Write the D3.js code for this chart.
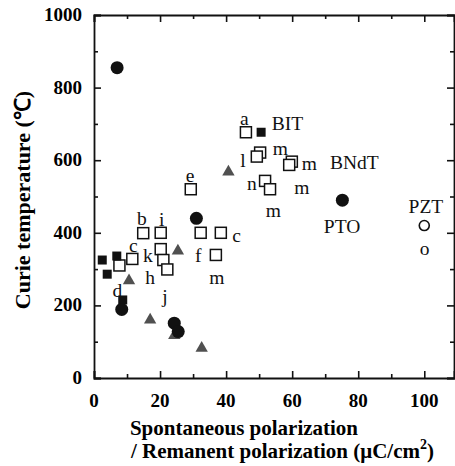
<!DOCTYPE html>
<html>

<head>
  <title>Curie temperature vs polarization</title>
  <meta charset="utf-8">
  <script src="https://d3js.org/d3.v7.min.js"></script>
  <style>
    body { margin: 0; background: #fff; }
    text { font-family: "Liberation Serif", "Times New Roman", serif; }
  </style>
</head>

<body>
  <div id="chart"></div>

  <script>
    // values: [polarization, Tc]
    var filledCircles = [[7, 855], [31, 440], [75.2, 490], [8.4, 189], [24.3, 151], [25.5, 128]];
    var triangles = [[40.7, 568], [25.4, 350], [10.6, 268], [17, 160], [24.3, 117], [32.6, 82]];
    var filledSquares = [[50.6, 677], [2.5, 325], [4, 286], [6.9, 336], [8.7, 215]];
    var openSquares = [[46, 677], [50.3, 621], [49.3, 610], [51.8, 543], [53.3, 520], [29.3, 520],
      [59.9, 596], [59.1, 587], [14.9, 399], [20.2, 400], [32.3, 400], [38.4, 400], [20.2, 355],
      [21, 325], [22.2, 299], [11.6, 328], [7.7, 310], [36.9, 339]];
    var openCircles = [[100, 420]];

    // point labels, in data coordinates
    var labels = [["a", 45.5, 715], ["BIT", 58.6, 702], ["l", 45.1, 600], ["m", 56.4, 634],
      ["m", 65.2, 592], ["BNdT", 78.8, 595], ["n", 47.8, 538], ["m", 62.9, 527], ["m", 54.3, 463],
      ["PTO", 75.1, 417], ["PZT", 100.5, 472], ["o", 100.1, 357], ["e", 29.1, 559],
      ["b", 14.5, 440], ["i", 20.5, 437], ["c", 11.9, 366], ["k", 16.3, 339], ["f", 31.6, 339],
      ["c", 43.2, 394], ["h", 17, 279], ["m", 37.2, 279], ["d", 7.1, 242], ["j", 21.5, 226]];

    var xMajor = [0, 20, 40, 60, 80, 100];
    var xMinor = [10, 30, 50, 70, 90];
    var yMajor = [0, 200, 400, 600, 800, 1000];
    var yMinor = [100, 300, 500, 700, 900];

    var W = 455, H = 466;
    var plotL = 94, plotR = 454, plotT = 15, plotB = 378;

    var svg = d3.select("#chart").append("svg")
      .attr("width", W)
      .attr("height", H);

    var x = d3.scaleLinear().domain([0, 109]).range([plotL, plotR]);
    var y = d3.scaleLinear().domain([0, 1000]).range([plotB, plotT]);

    // axes with inward ticks
    function drawAxis(axisFn, scale, major, minor, tx, ty) {
      var g = svg.append("g").attr("transform", "translate(" + tx + "," + ty + ")");
      g.call(axisFn(scale).tickValues(major).tickSize(-7).tickFormat(""));
      var g2 = svg.append("g").attr("transform", "translate(" + tx + "," + ty + ")");
      g2.call(axisFn(scale).tickValues(minor).tickSize(-4).tickFormat(""));
      g2.select(".domain").remove();
    }
    drawAxis(d3.axisBottom, x, xMajor, xMinor, 0, plotB);
    drawAxis(d3.axisTop, x, xMajor, xMinor, 0, plotT);
    drawAxis(d3.axisLeft, y, yMajor, yMinor, plotL, 0);
    drawAxis(d3.axisRight, y, yMajor, yMinor, plotR, 0);
    svg.selectAll(".domain, .tick line")
      .attr("stroke", "#111")
      .attr("stroke-width", 1.6);
    svg.selectAll(".domain").attr("stroke-width", 1.8);

    // tick labels
    svg.selectAll(".xlab").data(xMajor).enter().append("text")
      .attr("x", function(d) { return x(d); })
      .attr("y", 407)
      .attr("text-anchor", "middle")
      .attr("font-size", 19)
      .attr("font-weight", "bold")
      .text(function(d) { return d; });

    svg.selectAll(".ylab").data(yMajor).enter().append("text")
      .attr("x", 82)
      .attr("y", function(d) { return y(d) + 6; })
      .attr("text-anchor", "end")
      .attr("font-size", 19)
      .attr("font-weight", "bold")
      .text(function(d) { return d; });

    // axis titles
    svg.append("text")
      .attr("transform", "translate(30,200) rotate(-90)")
      .attr("text-anchor", "middle")
      .attr("font-size", 22)
      .attr("font-weight", "bold")
      .text("Curie temperature (\u2103)");

    svg.append("text")
      .attr("x", 244)
      .attr("y", 435)
      .attr("text-anchor", "middle")
      .attr("font-size", 21)
      .attr("font-weight", "bold")
      .text("Spontaneous polarization");

    var t2 = svg.append("text")
      .attr("x", 131)
      .attr("y", 458)
      .attr("font-size", 21)
      .attr("font-weight", "bold");
    t2.append("tspan").text("/ Remanent polarization (\u03bcC/cm");
    t2.append("tspan").attr("dy", -9).attr("font-size", 14).text("2");
    t2.append("tspan").attr("dy", 9).text(")");

    // markers
    svg.selectAll(".tri").data(triangles).enter().append("path")
      .attr("d", d3.symbol().type(d3.symbolTriangle).size(66))
      .attr("transform", function(d) { return "translate(" + x(d[0]) + "," + y(d[1]) + ")"; })
      .attr("fill", "#505050");

    svg.selectAll(".osq").data(openSquares).enter().append("rect")
      .attr("x", function(d) { return x(d[0]) - 5.5; })
      .attr("y", function(d) { return y(d[1]) - 5.5; })
      .attr("width", 11)
      .attr("height", 11)
      .attr("fill", "#fff")
      .attr("stroke", "#111")
      .attr("stroke-width", 1.5);

    svg.selectAll(".fsq").data(filledSquares).enter().append("rect")
      .attr("x", function(d) { return x(d[0]) - 4.5; })
      .attr("y", function(d) { return y(d[1]) - 4.5; })
      .attr("width", 9)
      .attr("height", 9)
      .attr("fill", "#111");

    svg.selectAll(".fc").data(filledCircles).enter().append("circle")
      .attr("cx", function(d) { return x(d[0]); })
      .attr("cy", function(d) { return y(d[1]); })
      .attr("r", 6.5)
      .attr("fill", "#111");

    svg.selectAll(".oc").data(openCircles).enter().append("circle")
      .attr("cx", function(d) { return x(d[0]); })
      .attr("cy", function(d) { return y(d[1]); })
      .attr("r", 5)
      .attr("fill", "#fff")
      .attr("stroke", "#111")
      .attr("stroke-width", 1.6);

    svg.selectAll(".lbl").data(labels).enter().append("text")
      .attr("x", function(d) { return x(d[1]); })
      .attr("y", function(d) { return y(d[2]); })
      .attr("dy", "0.35em")
      .attr("text-anchor", "middle")
      .attr("font-size", 19.5)
      .attr("fill", "#111")
      .text(function(d) { return d[0]; });
  </script>
</body>
</html>
